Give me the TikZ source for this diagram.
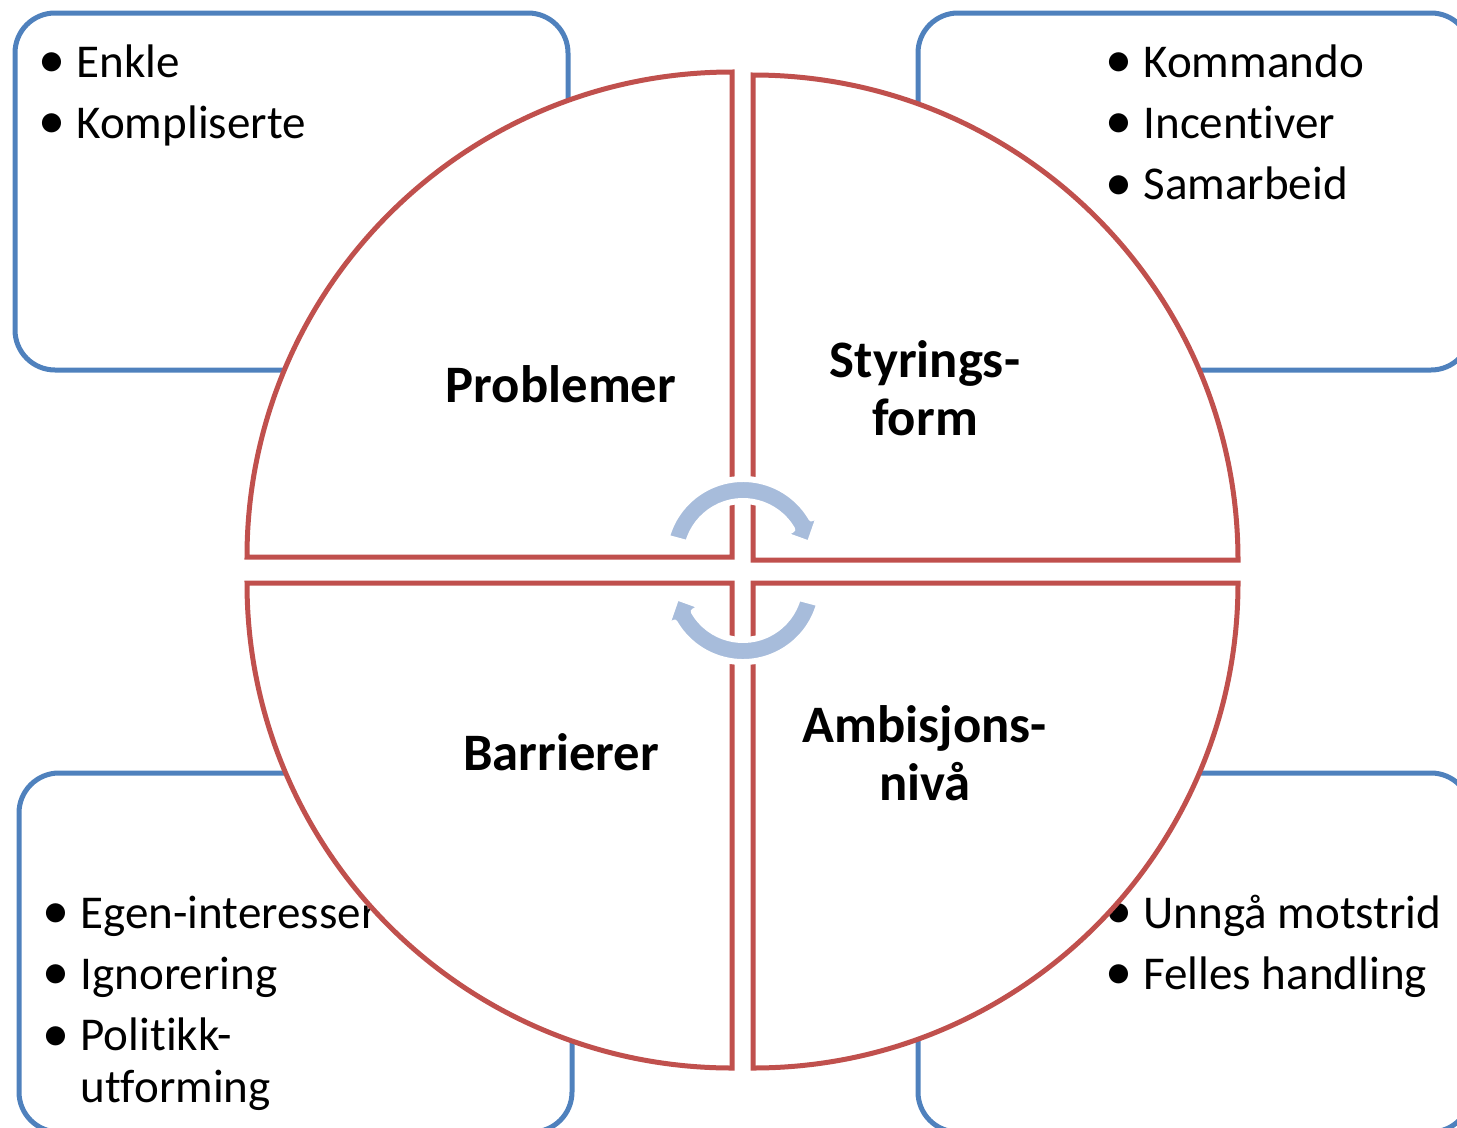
\documentclass[tikz,border=0pt]{standalone}
\usepackage{fontspec}
\setmainfont{Carlito}[Ligatures=NoCommon]

\definecolor{boxblue}{RGB}{79,129,189}
\definecolor{quadred}{RGB}{192,80,77}
\definecolor{cycleblue}{RGB}{167,188,219}

\tikzset{every picture/.style={line width=0.75pt}}
\tikzset{
  listbox/.style={draw=boxblue, line width=3.75pt, rounded corners=30pt},
  quadrant/.style={draw=quadred, fill=white, line width=3.75pt},
  cyclearrow/.style={fill=cycleblue, draw=white, line width=4.5pt, line join=round},
  listtext/.style={anchor=base west, inner sep=0pt, font=\fontsize{35.3}{46}\selectfont},
  quadtext/.style={anchor=base, inner sep=0pt, font=\fontsize{39.5}{43.5}\selectfont\bfseries},
}
\newcommand{\bul}{\makebox[28.5pt][l]{\raisebox{-0.4pt}{\scalebox{1.15}{\textbullet}}}}

\begin{document}
\begin{tikzpicture}[x=0.75pt,y=0.75pt,yscale=-1,xscale=1]
	\useasboundingbox (0,0) rectangle (1457,1128);
	\clip (0,0) rectangle (1457,1128);

	% Boxes
	\draw[listbox] (15,13) rectangle (568,370);
	\draw[listbox] (918,13) rectangle (1471,370);
	\draw[listbox] (19,773) rectangle (572,1132);
	\draw[listbox] (918,773) rectangle (1471,1132);

	% Box texts
	\node[listtext] (problist) at (38,77) {\begin{tabular}[t]{@{}l@{}}\bul Enkle\\ \bul Kompliserte\end{tabular}};
	\node[listtext] (styrlist) at (1105,77) {\begin{tabular}[t]{@{}l@{}}\bul Kommando\\ \bul Incentiver\\ \bul Samarbeid\end{tabular}};
	\node[listtext] (barrlist) at (42,928) {\begin{tabular}[t]{@{}l@{}}\bul Egen-interesser\\ \bul Ignorering\\ \bul Politikk-\\[-7pt] \hspace*{28.5pt}utforming\end{tabular}};
	\node[listtext] (ambilist) at (1105,928) {\begin{tabular}[t]{@{}l@{}}\bul Unngå motstrid\\ \bul Felles handling\end{tabular}};

	% Quadrants
	\draw[quadrant] (732,557) -- (247,557) arc[start angle=180, end angle=270, radius=485] -- cycle;
	\draw[quadrant] (753,560) -- (753,75) arc[start angle=270, end angle=360, radius=485] -- cycle;
	\draw[quadrant] (732,583) -- (732,1068) arc[start angle=90, end angle=180, radius=485] -- cycle;
	\draw[quadrant] (753,583) -- (1238,583) arc[start angle=0, end angle=90, radius=485] -- cycle;

	% Quadrant labels
	\node[quadtext] (problemer) at (561,402) {Problemer};
	\node[quadtext] (styring) at (925,377) {\begin{tabular}[t]{@{}c@{}}Styrings-\\ form\end{tabular}};
	\node[quadtext] (barrierer) at (561,770) {Barrierer};
	\node[quadtext] (ambisjon) at (925,742) {\begin{tabular}[t]{@{}c@{}}Ambisjons-\\ nivå\end{tabular}};

	% Cycle arrows
	\filldraw[cyclearrow] ([shift={(743,558)}]195:79) arc[start angle=195, end angle=330, radius=79]
		-- ([shift={(743,558)}]330:89) -- ([shift={(743,558)}]348:68) -- ([shift={(743,558)}]330:47)
		-- ([shift={(743,558)}]330:57) arc[start angle=330, end angle=195, radius=57] -- cycle;
	\filldraw[cyclearrow] ([shift={(743,583)}]15:79) arc[start angle=15, end angle=150, radius=79]
		-- ([shift={(743,583)}]150:89) -- ([shift={(743,583)}]168:68) -- ([shift={(743,583)}]150:47)
		-- ([shift={(743,583)}]150:57) arc[start angle=150, end angle=15, radius=57] -- cycle;

\end{tikzpicture}
\end{document}
